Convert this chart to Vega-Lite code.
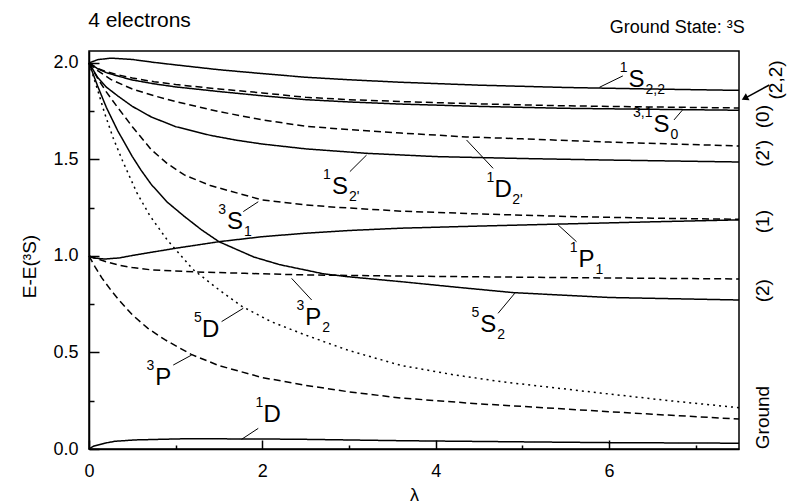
{
  "$schema": "https://vega.github.io/schema/vega-lite/v6.json",
  "width": 650,
  "height": 398,
  "autosize": {"type": "none"},
  "padding": {"left": 89, "top": 51, "right": 48, "bottom": 54},
  "background": "white",
  "config": {
    "font": "Liberation Sans",
    "view": {"stroke": "black", "strokeWidth": 1.5},
    "axis": {"grid": false, "domainColor": "black", "domainWidth": 1.5, "tickColor": "black", "tickWidth": 1.5, "labelColor": "black", "titleColor": "black", "labelFontSize": 18, "titleFontSize": 19, "titleFontWeight": "normal"}
  },
  "datasets": {
    "curves": [
      {"s":"S22","k":"solid","x":0,"y":2.0},{"s":"S22","k":"solid","x":0.1,"y":2.017},{"s":"S22","k":"solid","x":0.25,"y":2.025},{"s":"S22","k":"solid","x":0.5,"y":2.018},{"s":"S22","k":"solid","x":0.75,"y":2.003},{"s":"S22","k":"solid","x":1,"y":1.99},{"s":"S22","k":"solid","x":1.5,"y":1.965},{"s":"S22","k":"solid","x":2,"y":1.945},{"s":"S22","k":"solid","x":2.5,"y":1.926},{"s":"S22","k":"solid","x":3,"y":1.913},{"s":"S22","k":"solid","x":3.6,"y":1.9},{"s":"S22","k":"solid","x":4.5,"y":1.885},{"s":"S22","k":"solid","x":5.5,"y":1.873},{"s":"S22","k":"solid","x":6.5,"y":1.865},{"s":"S22","k":"solid","x":7.5,"y":1.858},

      {"s":"S0s","k":"solid","x":0,"y":2.0},{"s":"S0s","k":"solid","x":0.1,"y":1.97},{"s":"S0s","k":"solid","x":0.2,"y":1.95},{"s":"S0s","k":"solid","x":0.35,"y":1.93},{"s":"S0s","k":"solid","x":0.5,"y":1.912},{"s":"S0s","k":"solid","x":0.75,"y":1.892},{"s":"S0s","k":"solid","x":1,"y":1.876},{"s":"S0s","k":"solid","x":1.5,"y":1.852},{"s":"S0s","k":"solid","x":2,"y":1.83},{"s":"S0s","k":"solid","x":2.5,"y":1.81},{"s":"S0s","k":"solid","x":3,"y":1.798},{"s":"S0s","k":"solid","x":3.6,"y":1.787},{"s":"S0s","k":"solid","x":4.5,"y":1.775},{"s":"S0s","k":"solid","x":5.5,"y":1.765},{"s":"S0s","k":"solid","x":6.5,"y":1.76},{"s":"S0s","k":"solid","x":7.5,"y":1.755},

      {"s":"S0d","k":"dashed","x":0,"y":2.0},{"s":"S0d","k":"dashed","x":0.1,"y":1.972},{"s":"S0d","k":"dashed","x":0.2,"y":1.955},{"s":"S0d","k":"dashed","x":0.35,"y":1.937},{"s":"S0d","k":"dashed","x":0.5,"y":1.922},{"s":"S0d","k":"dashed","x":0.75,"y":1.903},{"s":"S0d","k":"dashed","x":1,"y":1.888},{"s":"S0d","k":"dashed","x":1.5,"y":1.865},{"s":"S0d","k":"dashed","x":2,"y":1.845},{"s":"S0d","k":"dashed","x":2.5,"y":1.822},{"s":"S0d","k":"dashed","x":3,"y":1.81},{"s":"S0d","k":"dashed","x":3.6,"y":1.8},{"s":"S0d","k":"dashed","x":4.5,"y":1.788},{"s":"S0d","k":"dashed","x":5.5,"y":1.778},{"s":"S0d","k":"dashed","x":6.5,"y":1.772},{"s":"S0d","k":"dashed","x":7.5,"y":1.767},

      {"s":"D2p","k":"dashed","x":0,"y":2.0},{"s":"D2p","k":"dashed","x":0.1,"y":1.96},{"s":"D2p","k":"dashed","x":0.25,"y":1.915},{"s":"D2p","k":"dashed","x":0.5,"y":1.865},{"s":"D2p","k":"dashed","x":0.75,"y":1.83},{"s":"D2p","k":"dashed","x":1,"y":1.8},{"s":"D2p","k":"dashed","x":1.5,"y":1.748},{"s":"D2p","k":"dashed","x":2,"y":1.705},{"s":"D2p","k":"dashed","x":2.5,"y":1.672},{"s":"D2p","k":"dashed","x":3,"y":1.655},{"s":"D2p","k":"dashed","x":3.6,"y":1.637},{"s":"D2p","k":"dashed","x":4.35,"y":1.617},{"s":"D2p","k":"dashed","x":5,"y":1.607},{"s":"D2p","k":"dashed","x":6,"y":1.59},{"s":"D2p","k":"dashed","x":7.5,"y":1.57},

      {"s":"S2p","k":"solid","x":0,"y":2.0},{"s":"S2p","k":"solid","x":0.1,"y":1.925},{"s":"S2p","k":"solid","x":0.2,"y":1.875},{"s":"S2p","k":"solid","x":0.33,"y":1.83},{"s":"S2p","k":"solid","x":0.5,"y":1.775},{"s":"S2p","k":"solid","x":0.72,"y":1.72},{"s":"S2p","k":"solid","x":1,"y":1.67},{"s":"S2p","k":"solid","x":1.4,"y":1.625},{"s":"S2p","k":"solid","x":1.7,"y":1.6},{"s":"S2p","k":"solid","x":2,"y":1.58},{"s":"S2p","k":"solid","x":2.5,"y":1.555},{"s":"S2p","k":"solid","x":3.2,"y":1.532},{"s":"S2p","k":"solid","x":4,"y":1.515},{"s":"S2p","k":"solid","x":5,"y":1.505},{"s":"S2p","k":"solid","x":6,"y":1.497},{"s":"S2p","k":"solid","x":7.5,"y":1.487},

      {"s":"S1","k":"dashed","x":0,"y":2.0},{"s":"S1","k":"dashed","x":0.1,"y":1.92},{"s":"S1","k":"dashed","x":0.2,"y":1.85},{"s":"S1","k":"dashed","x":0.33,"y":1.77},{"s":"S1","k":"dashed","x":0.5,"y":1.67},{"s":"S1","k":"dashed","x":0.72,"y":1.55},{"s":"S1","k":"dashed","x":0.9,"y":1.48},{"s":"S1","k":"dashed","x":1.1,"y":1.42},{"s":"S1","k":"dashed","x":1.4,"y":1.365},{"s":"S1","k":"dashed","x":1.72,"y":1.325},{"s":"S1","k":"dashed","x":2,"y":1.29},{"s":"S1","k":"dashed","x":2.5,"y":1.265},{"s":"S1","k":"dashed","x":2.8,"y":1.254},{"s":"S1","k":"dashed","x":3.6,"y":1.232},{"s":"S1","k":"dashed","x":4.5,"y":1.218},{"s":"S1","k":"dashed","x":5.5,"y":1.205},{"s":"S1","k":"dashed","x":6.5,"y":1.196},{"s":"S1","k":"dashed","x":7.5,"y":1.19},

      {"s":"P1","k":"solid","x":0,"y":1.0},{"s":"P1","k":"solid","x":0.05,"y":0.99},{"s":"P1","k":"solid","x":0.18,"y":0.984},{"s":"P1","k":"solid","x":0.35,"y":0.99},{"s":"P1","k":"solid","x":0.53,"y":1.005},{"s":"P1","k":"solid","x":1,"y":1.04},{"s":"P1","k":"solid","x":1.5,"y":1.074},{"s":"P1","k":"solid","x":2,"y":1.1},{"s":"P1","k":"solid","x":2.5,"y":1.118},{"s":"P1","k":"solid","x":3,"y":1.132},{"s":"P1","k":"solid","x":3.6,"y":1.144},{"s":"P1","k":"solid","x":4.5,"y":1.155},{"s":"P1","k":"solid","x":5.4,"y":1.165},{"s":"P1","k":"solid","x":6.5,"y":1.177},{"s":"P1","k":"solid","x":7.5,"y":1.187},

      {"s":"S2","k":"solid","x":0,"y":2.0},{"s":"S2","k":"solid","x":0.1,"y":1.88},{"s":"S2","k":"solid","x":0.2,"y":1.77},{"s":"S2","k":"solid","x":0.33,"y":1.65},{"s":"S2","k":"solid","x":0.5,"y":1.515},{"s":"S2","k":"solid","x":0.6,"y":1.445},{"s":"S2","k":"solid","x":0.72,"y":1.37},{"s":"S2","k":"solid","x":0.9,"y":1.28},{"s":"S2","k":"solid","x":1.1,"y":1.205},{"s":"S2","k":"solid","x":1.3,"y":1.135},{"s":"S2","k":"solid","x":1.5,"y":1.074},{"s":"S2","k":"solid","x":1.9,"y":0.995},{"s":"S2","k":"solid","x":2.2,"y":0.955},{"s":"S2","k":"solid","x":2.5,"y":0.927},{"s":"S2","k":"solid","x":2.7,"y":0.908},{"s":"S2","k":"solid","x":3,"y":0.892},{"s":"S2","k":"solid","x":3.6,"y":0.867},{"s":"S2","k":"solid","x":4.2,"y":0.84},{"s":"S2","k":"solid","x":4.9,"y":0.81},{"s":"S2","k":"solid","x":6,"y":0.785},{"s":"S2","k":"solid","x":7.5,"y":0.772},

      {"s":"P2","k":"dashed","x":0,"y":1.0},{"s":"P2","k":"dashed","x":0.1,"y":0.985},{"s":"P2","k":"dashed","x":0.2,"y":0.97},{"s":"P2","k":"dashed","x":0.34,"y":0.953},{"s":"P2","k":"dashed","x":0.5,"y":0.94},{"s":"P2","k":"dashed","x":0.72,"y":0.928},{"s":"P2","k":"dashed","x":1.2,"y":0.918},{"s":"P2","k":"dashed","x":1.8,"y":0.91},{"s":"P2","k":"dashed","x":2.5,"y":0.902},{"s":"P2","k":"dashed","x":3.6,"y":0.896},{"s":"P2","k":"dashed","x":5,"y":0.89},{"s":"P2","k":"dashed","x":6,"y":0.886},{"s":"P2","k":"dashed","x":7.5,"y":0.881},

      {"s":"D5","k":"dotted","x":0,"y":2.0},{"s":"D5","k":"dotted","x":0.1,"y":1.86},{"s":"D5","k":"dotted","x":0.18,"y":1.74},{"s":"D5","k":"dotted","x":0.28,"y":1.61},{"s":"D5","k":"dotted","x":0.39,"y":1.49},{"s":"D5","k":"dotted","x":0.55,"y":1.33},{"s":"D5","k":"dotted","x":0.7,"y":1.21},{"s":"D5","k":"dotted","x":0.9,"y":1.085},{"s":"D5","k":"dotted","x":1.2,"y":0.93},{"s":"D5","k":"dotted","x":1.5,"y":0.825},{"s":"D5","k":"dotted","x":1.76,"y":0.74},{"s":"D5","k":"dotted","x":2.1,"y":0.66},{"s":"D5","k":"dotted","x":2.5,"y":0.59},{"s":"D5","k":"dotted","x":3,"y":0.51},{"s":"D5","k":"dotted","x":3.6,"y":0.433},{"s":"D5","k":"dotted","x":4.2,"y":0.385},{"s":"D5","k":"dotted","x":4.75,"y":0.349},{"s":"D5","k":"dotted","x":5.9,"y":0.29},{"s":"D5","k":"dotted","x":6.7,"y":0.25},{"s":"D5","k":"dotted","x":7.5,"y":0.214},

      {"s":"P3","k":"dashed","x":0,"y":1.0},{"s":"P3","k":"dashed","x":0.07,"y":0.944},{"s":"P3","k":"dashed","x":0.15,"y":0.885},{"s":"P3","k":"dashed","x":0.25,"y":0.825},{"s":"P3","k":"dashed","x":0.34,"y":0.775},{"s":"P3","k":"dashed","x":0.5,"y":0.695},{"s":"P3","k":"dashed","x":0.68,"y":0.625},{"s":"P3","k":"dashed","x":0.88,"y":0.565},{"s":"P3","k":"dashed","x":1.18,"y":0.49},{"s":"P3","k":"dashed","x":1.5,"y":0.432},{"s":"P3","k":"dashed","x":2,"y":0.37},{"s":"P3","k":"dashed","x":2.5,"y":0.33},{"s":"P3","k":"dashed","x":3,"y":0.296},{"s":"P3","k":"dashed","x":3.6,"y":0.264},{"s":"P3","k":"dashed","x":4.5,"y":0.234},{"s":"P3","k":"dashed","x":5.5,"y":0.207},{"s":"P3","k":"dashed","x":6.5,"y":0.18},{"s":"P3","k":"dashed","x":7.5,"y":0.155},

      {"s":"D1","k":"solid","x":0,"y":0.0},{"s":"D1","k":"solid","x":0.05,"y":0.014},{"s":"D1","k":"solid","x":0.18,"y":0.03},{"s":"D1","k":"solid","x":0.3,"y":0.04},{"s":"D1","k":"solid","x":0.53,"y":0.047},{"s":"D1","k":"solid","x":1.1,"y":0.053},{"s":"D1","k":"solid","x":2,"y":0.052},{"s":"D1","k":"solid","x":2.5,"y":0.05},{"s":"D1","k":"solid","x":3.6,"y":0.043},{"s":"D1","k":"solid","x":5,"y":0.037},{"s":"D1","k":"solid","x":6,"y":0.033},{"s":"D1","k":"solid","x":7.5,"y":0.03}
    ],
    "labels": [
      {"m":"S","sup":"1","sub":"2,2","x":6.317,"y":1.912},
      {"m":"S","sup":"3,1","sub":"0","x":6.605,"y":1.679},
      {"m":"D","sup":"1","sub":"2'","x":4.779,"y":1.342},
      {"m":"S","sup":"1","sub":"2'","x":2.895,"y":1.359},
      {"m":"S","sup":"3","sub":"1","x":1.684,"y":1.178},
      {"m":"P","sup":"1","sub":"1","x":5.74,"y":0.979},
      {"m":"S","sup":"5","sub":"2","x":4.606,"y":0.642},
      {"m":"P","sup":"3","sub":"2","x":2.587,"y":0.677},
      {"m":"D","sup":"5","sub":"","x":1.404,"y":0.617},
      {"m":"P","sup":"3","sub":"","x":0.857,"y":0.366},
      {"m":"D","sup":"1","sub":"","x":2.114,"y":0.176}
    ],
    "leaders": [
      {"x":6.16,"y":1.933,"x2":5.89,"y2":1.874},
      {"x":6.75,"y":1.705,"x2":6.855,"y2":1.76},
      {"x":4.663,"y":1.454,"x2":4.356,"y2":1.601},
      {"x":3.01,"y":1.437,"x2":3.203,"y2":1.523},
      {"x":1.78,"y":1.23,"x2":1.953,"y2":1.281},
      {"x":5.413,"y":1.161,"x2":5.625,"y2":1.074},
      {"x":4.72,"y":0.703,"x2":4.913,"y2":0.807},
      {"x":2.569,"y":0.772,"x2":2.338,"y2":0.884},
      {"x":1.53,"y":0.66,"x2":1.78,"y2":0.729},
      {"x":0.972,"y":0.435,"x2":1.185,"y2":0.487},
      {"x":1.953,"y":0.107,"x2":1.76,"y2":0.05}
    ],
    "right": [
      {"t":"(2,2)","x":7.93,"y":1.912},
      {"t":"(0)","x":7.774,"y":1.722},
      {"t":"(2')","x":7.774,"y":1.532},
      {"t":"(1)","x":7.774,"y":1.178},
      {"t":"(2)","x":7.774,"y":0.82},
      {"t":"Ground","x":7.774,"y":0.163}
    ],
    "arrow": [
      {"x":7.85,"y":1.886,"x2":7.566,"y2":1.817}
    ],
    "title1": [
      {"t":"4 electrons","x":-0.01,"y":2.187}
    ],
    "title2": [
      {"t":"Ground State:  ³S","x":7.566,"y":2.155}
    ]
  },
  "encoding": {
    "x": {"field": "x", "type": "quantitative",
      "scale": {"domain": [0, 7.5], "nice": false, "zero": false},
      "axis": {"title": "λ", "values": [0,1,2,3,4,5,6,7], "labelExpr": "datum.value % 2 == 0 ? format(datum.value, 'd') : ''", "labelFlush": false,
        "tickSize": {"condition": {"test": "datum.value % 2 == 0", "value": -9}, "value": -4},
        "labelPadding": 22, "titleY": 37, "titleFontSize": 18}},
    "y": {"field": "y", "type": "quantitative",
      "scale": {"domain": [0, 2.062], "nice": false, "zero": false},
      "axis": {"title": "E-E(³S)", "values": [0,0.25,0.5,0.75,1,1.25,1.5,1.75,2], "labelExpr": "datum.value % 0.5 == 0 ? format(datum.value, '.1f') : ''", "labelFlush": false,
        "tickSize": {"condition": {"test": "datum.value % 0.5 == 0", "value": -10}, "value": -5},
        "labelPadding": 21, "titleX": -50, "titleY": 215}}
  },
  "layer": [
    {
      "data": {"name": "curves"},
      "mark": {"type": "line", "color": "black", "strokeWidth": 1.5},
      "encoding": {
        "detail": {"field": "s", "type": "nominal"},
        "strokeDash": {"field": "k", "type": "nominal", "scale": {"domain": ["solid","dashed","dotted"], "range": [[1,0],[7,4],[2,4]]}, "legend": null}
      }
    },
    {
      "data": {"name": "leaders"},
      "mark": {"type": "rule", "color": "black", "strokeWidth": 1},
      "encoding": {"x2": {"field": "x2"}, "y2": {"field": "y2"}}
    },
    {
      "data": {"name": "arrow"},
      "mark": {"type": "rule", "color": "black", "strokeWidth": 1.5},
      "encoding": {"x2": {"field": "x2"}, "y2": {"field": "y2"}}
    },
    {
      "data": {"name": "arrow"},
      "mark": {"type": "point", "shape": "triangle-up", "filled": true, "color": "black", "size": 60, "angle": 242, "opacity": 1},
      "encoding": {"x": {"field": "x2", "type": "quantitative"}, "y": {"field": "y2", "type": "quantitative"}}
    },
    {
      "data": {"name": "labels"},
      "mark": {"type": "text", "fontSize": 24, "align": "center", "baseline": "middle", "color": "black"},
      "encoding": {"text": {"field": "m"}}
    },
    {
      "data": {"name": "labels"},
      "mark": {"type": "text", "fontSize": 14, "align": "right", "baseline": "middle", "dx": -9, "dy": -12, "color": "black"},
      "encoding": {"text": {"field": "sup"}}
    },
    {
      "data": {"name": "labels"},
      "mark": {"type": "text", "fontSize": 14, "align": "left", "baseline": "middle", "dx": 9, "dy": 10, "color": "black"},
      "encoding": {"text": {"field": "sub"}}
    },
    {
      "data": {"name": "right"},
      "mark": {"type": "text", "fontSize": 19, "align": "center", "baseline": "middle", "angle": 270, "color": "black"},
      "encoding": {"text": {"field": "t"}}
    },
    {
      "data": {"name": "title1"},
      "mark": {"type": "text", "fontSize": 21, "align": "left", "baseline": "alphabetic", "color": "black"},
      "encoding": {"text": {"field": "t"}}
    },
    {
      "data": {"name": "title2"},
      "mark": {"type": "text", "fontSize": 18, "align": "right", "baseline": "alphabetic", "color": "black"},
      "encoding": {"text": {"field": "t"}}
    }
  ]
}
